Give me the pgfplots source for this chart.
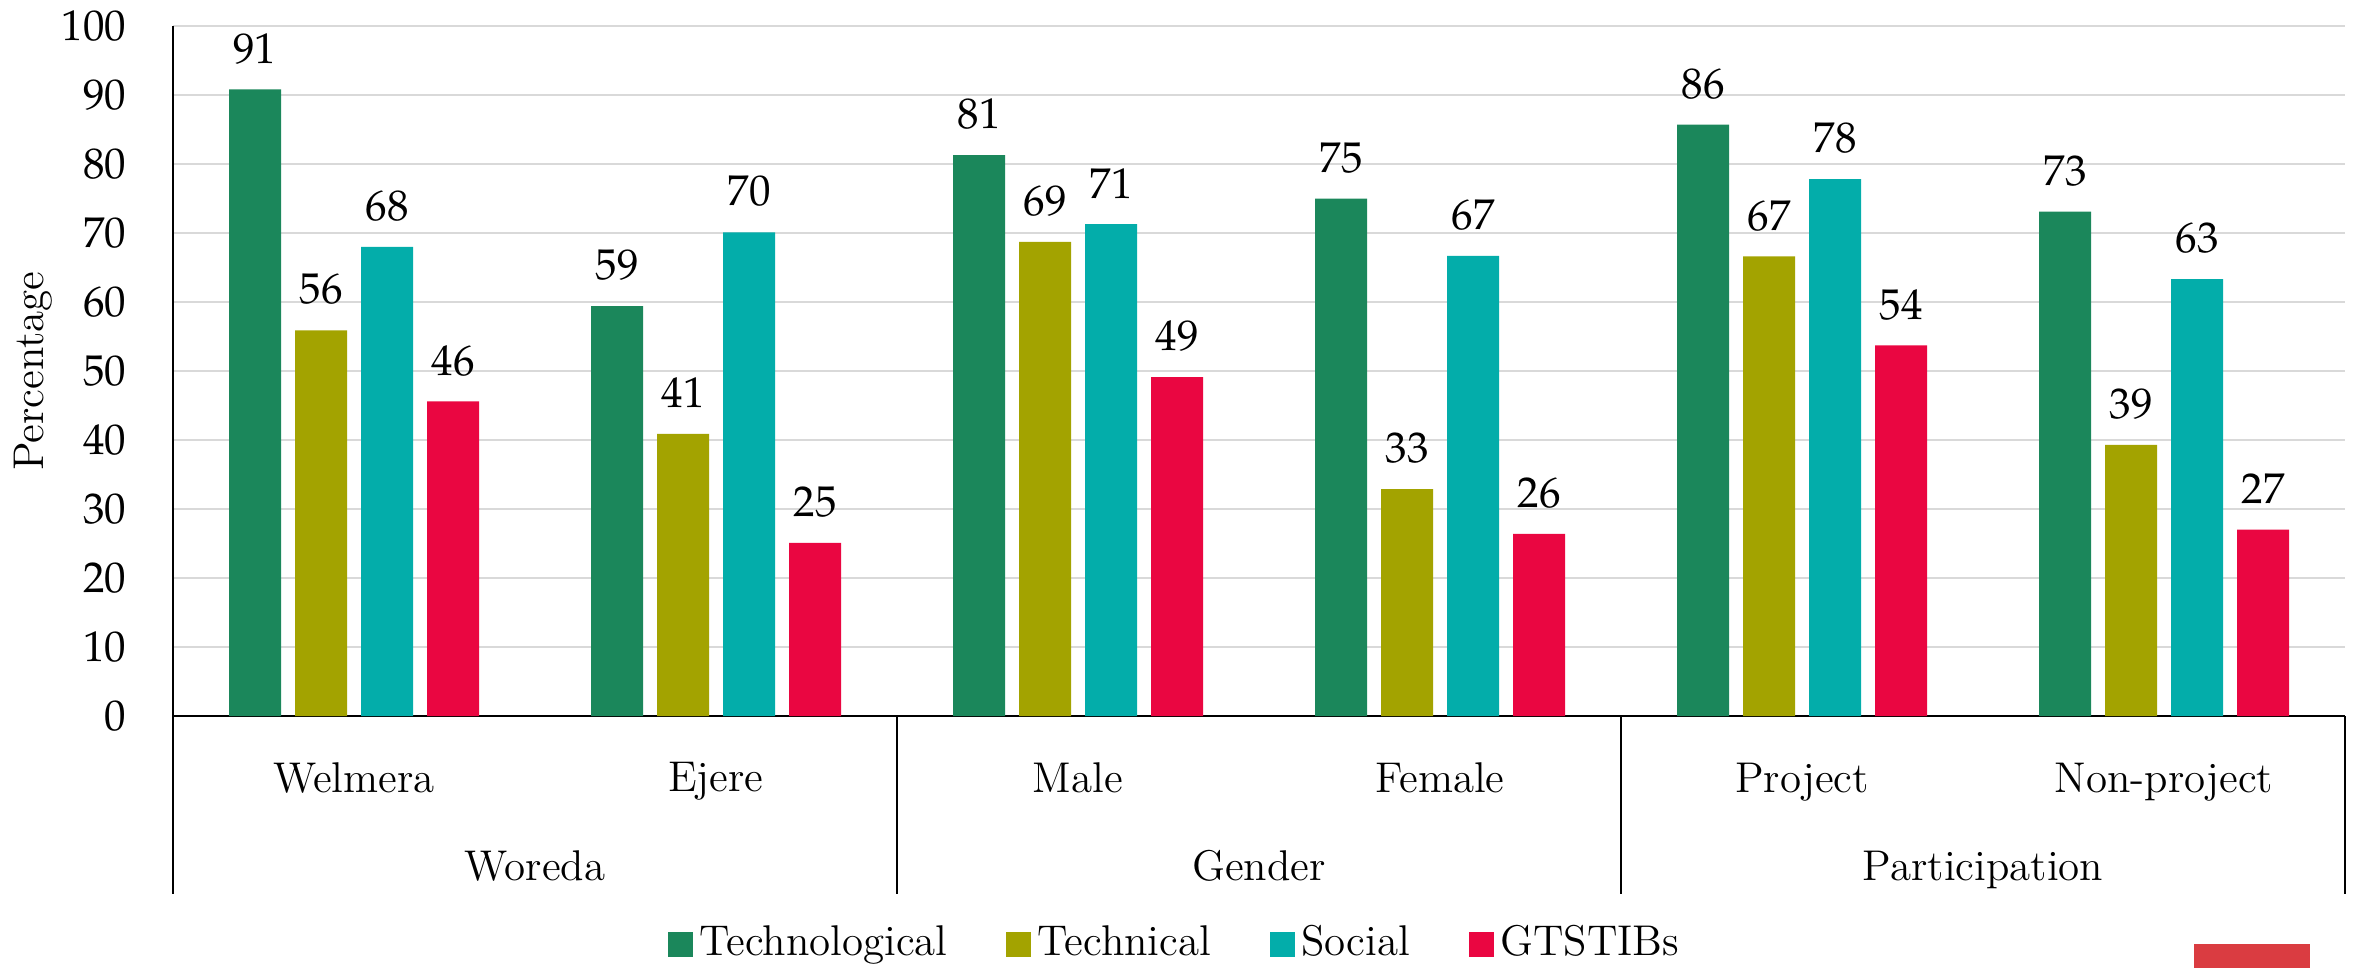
\documentclass[border=0pt]{standalone}
\usepackage{mathpazo}
\usepackage{pgfplots}
\pgfplotsset{compat=1.18}
\definecolor{ctech}{RGB}{27,135,91}
\definecolor{ctechn}{RGB}{163,163,0}
\definecolor{csoc}{RGB}{3,173,170}
\definecolor{cgts}{RGB}{234,6,65}
\definecolor{gridgray}{RGB}{217,217,217}
\definecolor{logored}{RGB}{218,60,65}
\begin{document}
\fontsize{12.9}{15.5}\selectfont
\begin{tikzpicture}
\useasboundingbox (-51.9pt,-75.6pt) rectangle (654.3pt,214.8pt);
\begin{axis}[
  at={(0,0)}, anchor=south west,
  scale only axis, width=651.6pt, height=207pt,
  ymin=0, ymax=100, ytick={0,10,...,100},
  xmin=-0.5, xmax=5.5, xtick={0,...,5},
  xticklabels={Welmera,Ejere,Male,Female,Project,Non-project},
  ybar=4.2pt, bar width=15.6pt,
  axis x line*=bottom, axis y line*=left,
  axis line style={black, line width=0.5pt},
  ymajorgrids, grid style={draw=gridgray, line width=0.6pt},
  major tick length=0pt,
  clip=false,
  yticklabel style={anchor=east, xshift=-9.5pt},
  xticklabel style={yshift=-9.5pt},
  nodes near coords={\pgfmathprintnumber[fixed,precision=0]{\pgfplotspointmeta}},
  nodes near coords style={yshift=3.2pt, black},
  legend style={at={(0.4622,0)}, anchor=center, yshift=-68.4pt, draw=none,
    legend columns=4, /tikz/every even column/.append style={column sep=15.6pt}},
  legend image code/.code={\fill[#1] (0pt,-3.75pt) rectangle (7.5pt,3.75pt);},
]
\addplot[fill=ctech, draw=none] coordinates {(0,90.8) (1,59.4) (2,81.3) (3,75.0) (4,85.7) (5,73.1)};
\addplot[fill=ctechn, draw=none] coordinates {(0,55.9) (1,40.9) (2,68.7) (3,32.9) (4,66.6) (5,39.3)};
\addplot[fill=csoc, draw=none] coordinates {(0,68.0) (1,70.1) (2,71.3) (3,66.7) (4,77.8) (5,63.3)};
\addplot[fill=cgts, draw=none] coordinates {(0,45.6) (1,25.1) (2,49.1) (3,26.4) (4,53.7) (5,27.0)};
\legend{Technological,Technical,Social,GTSTIBs}
\draw[black, line width=0.45pt] (axis cs:-0.5,0) -- ([yshift=-53.4pt]axis cs:-0.5,0);
\draw[black, line width=0.45pt] (axis cs:1.5,0) -- ([yshift=-53.4pt]axis cs:1.5,0);
\draw[black, line width=0.45pt] (axis cs:3.5,0) -- ([yshift=-53.4pt]axis cs:3.5,0);
\draw[black, line width=0.45pt] (axis cs:5.5,0) -- ([yshift=-53.4pt]axis cs:5.5,0);
\node[anchor=north, inner sep=0pt] at ([yshift=-40.2pt]axis cs:0.5,0) {Woreda};
\node[anchor=north, inner sep=0pt] at ([yshift=-40.2pt]axis cs:2.5,0) {Gender};
\node[anchor=north, inner sep=0pt] at ([yshift=-40.2pt]axis cs:4.5,0) {Participation};
\node[rotate=90, anchor=center] at ([xshift=-42pt]rel axis cs:0,0.5) {Percentage};
\end{axis}
\fill[logored] (606.3pt,-68.4pt) rectangle (641.1pt,-75.6pt);
\end{tikzpicture}
\end{document}
